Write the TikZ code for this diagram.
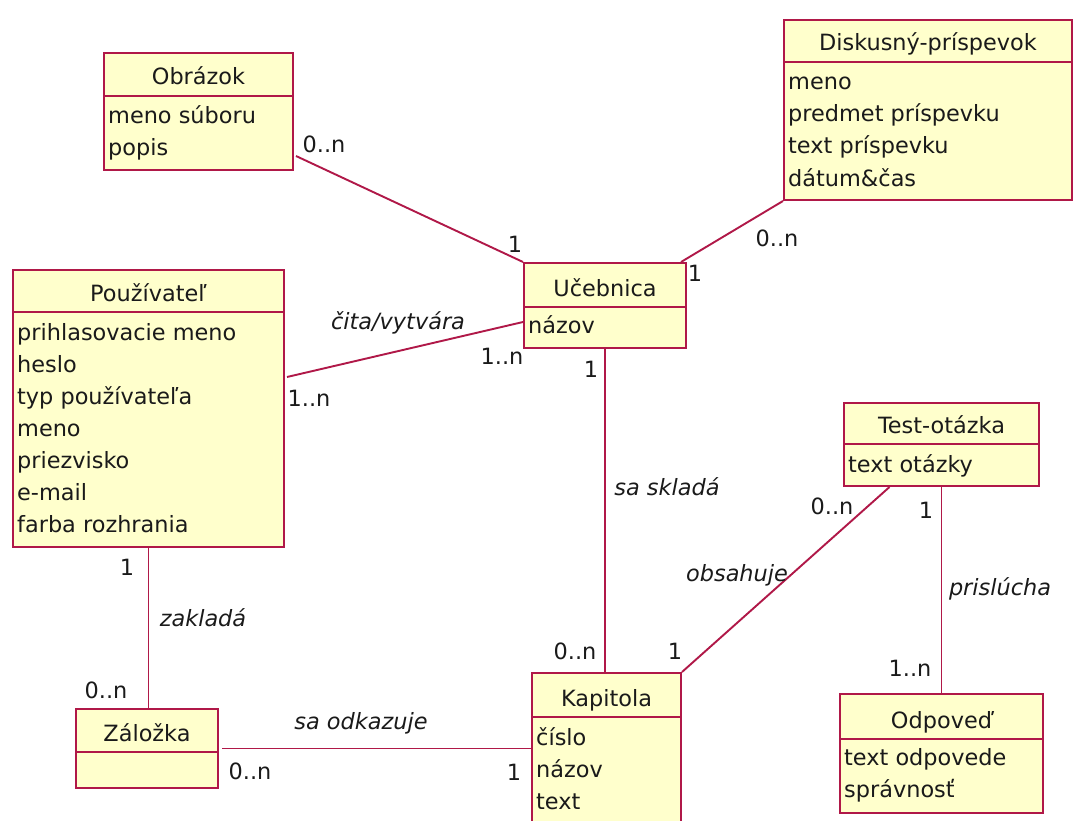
\documentclass[tikz,border=0pt]{standalone}
\usepackage{fontspec}
\setmainfont{DejaVu Sans}[ItalicFont={DejaVu Sans Oblique}]
\usetikzlibrary{calc}
\definecolor{umlred}{RGB}{176,24,72}
\definecolor{umlfill}{RGB}{255,255,204}
\definecolor{umltext}{RGB}{26,26,26}
\tikzset{
  classbox/.style={rectangle, draw=umlred, fill=umlfill, line width=2pt, inner sep=0pt},
  sepline/.style={draw=umlred, line width=2pt},
  titletext/.style={anchor=base, inner sep=0pt, text=umltext, font=\fontsize{22.4}{32}\selectfont},
  attrtext/.style={anchor=base west, inner sep=0pt, text=umltext, font=\fontsize{22.4}{32}\selectfont},
  conn/.style={draw=umlred, line width=1.9pt},
  mult/.style={anchor=base, inner sep=0pt, text=umltext, font=\fontsize{22.4}{32}\selectfont},
  role/.style={anchor=base, inner sep=0pt, text=umltext, font=\fontsize{22.4}{32}\selectfont\itshape}
}
% name, left, top, right, separator, bottom, title
\newcommand{\umlbox}[7]{%
  \node[classbox, minimum width={(#4-#2)*1pt}, minimum height={(#6-#3)*1pt}] (#1) at ({(#2+#4)/2},{(#3+#6)/2}) {};
  \draw[sepline] (#2,#5) -- (#4,#5);
  \node[titletext] (#1-t) at ({(#2+#4)/2},{#5-11}) {#7};
}
% name, left, separator, list of attributes
\newcommand{\umlattrs}[4]{%
  \foreach \a [count=\i from 0] in {#4} {\node[attrtext] (#1-a\i) at ({#2+4},{#3+28+32*\i}) {\a};}
}
\begin{document}
\begin{tikzpicture}[x=1pt,y=-1pt]
\useasboundingbox (0,0) rectangle (1078,821);
\clip (0,0) rectangle (1078,821);
\fill[white] (0,0) rectangle (1078,821);

\umlbox{obr}{104}{53}{293}{96}{170}{Obrázok}
\umlattrs{obr}{104}{96}{meno súboru,popis}

\umlbox{dis}{784}{20}{1072}{62}{200}{Diskusný-príspevok}
\umlattrs{dis}{784}{62}{meno,predmet príspevku,text príspevku,dátum\&čas}

\umlbox{pou}{13}{270}{284}{312}{547}{Používateľ}
\umlattrs{pou}{13}{312}{prihlasovacie meno,heslo,typ používateľa,meno,priezvisko,e-mail,farba rozhrania}

\umlbox{ucb}{524}{263}{686}{307}{348}{Učebnica}
\umlattrs{ucb}{524}{305}{názov}

\umlbox{tst}{844}{403}{1039}{444}{486}{Test-otázka}
\umlattrs{tst}{844}{444}{text otázky}

\umlbox{kap}{532}{673}{681}{717}{845}{Kapitola}
\umlattrs{kap}{532}{717}{číslo,názov,text}

\umlbox{odp}{840}{694}{1043}{739}{813}{Odpoveď}
\umlattrs{odp}{840}{737}{text odpovede,správnosť}

\umlbox{zal}{76}{709}{218}{752}{788}{Záložka}

% connectors
\draw[conn] ($(obr.south east)+(2,-15)$) -- (ucb.north west);
\draw[conn] (dis.south west) -- ($(ucb.north east)+(-6,0)$);
\draw[conn] ($(pou.north east)+(2,108)$) -- ($(ucb.south west)+(0,-27)$);
\draw[conn] (ucb.south) -- (ucb.south |- kap.north);
\draw[conn] ($(tst.south)+(-52,0)$) -- (kap.north east);
\draw[conn] (tst.south) -- (tst.south |- odp.north);
\draw[conn] (pou.south) -- (pou.south |- zal.north);
\draw[conn] ($(zal.east)+(3,0)$) -- (zal.east -| kap.west);

% multiplicities
\node[mult] (m1) at (324,153) {0..n};
\node[mult] (m2) at (515,252) {1};
\node[mult] (m3) at (777,246) {0..n};
\node[mult] (m4) at (695,281) {1};
\node[mult] (m5) at (502,364) {1..n};
\node[mult] (m6) at (309,406) {1..n};
\node[mult] (m7) at (591,377) {1};
\node[mult] (m8) at (575,659) {0..n};
\node[mult] (m9) at (675,659) {1};
\node[mult] (m10) at (832,514) {0..n};
\node[mult] (m11) at (926,518) {1};
\node[mult] (m12) at (910,676) {1..n};
\node[mult] (m13) at (127,575) {1};
\node[mult] (m14) at (106,698) {0..n};
\node[mult] (m15) at (250,779) {0..n};
\node[mult] (m16) at (514,780) {1};

% association names
\node[role] (r1) at (398,329) {čita/vytvára};
\node[role] (r2) at (667,495) {sa skladá};
\node[role] (r3) at (737,581) {obsahuje};
\node[role] (r4) at (1000,595) {prislúcha};
\node[role] (r5) at (203,626) {zakladá};
\node[role] (r6) at (361,729) {sa odkazuje};
\end{tikzpicture}
\end{document}
